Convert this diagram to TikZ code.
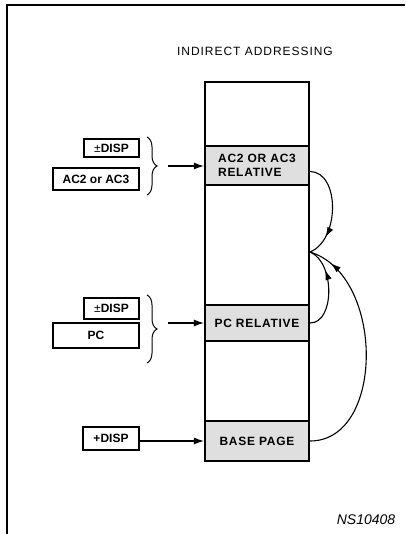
\documentclass[tikz,border=0pt]{standalone}
\usepackage{fontspec}
\setmainfont{Liberation Sans}
\usetikzlibrary{arrows.meta,decorations.pathreplacing,decorations.markings}
\begin{document}
\begin{tikzpicture}[x=1pt,y=-1pt,
  seg/.style={draw,line width=2.2pt,minimum width=104pt,inner sep=0pt,align=left,
    font=\bfseries\addfontfeature{LetterSpace=6}\fontsize{12}{14}\selectfont},
  shaded/.style={fill=gray!25},
  lbox/.style={draw,line width=2pt,inner sep=0pt,
    font=\bfseries\fontsize{12}{13}\selectfont},
  arr/.style={-{Latex[length=10pt,width=7pt]},line width=1.1pt},
  brc/.style={decorate,decoration={brace,amplitude=10pt},line width=1pt},
  carr/.style={line width=1.1pt,postaction=decorate,
    decoration={markings,mark=at position #1 with {\arrow{Latex[length=10pt,width=6.5pt]}}}},
  lbl/.style={font=\fontsize{12}{14}\selectfont\addfontfeature{LetterSpace=8}}
]
\useasboundingbox (0,0) rectangle (405,534);
% frame
\draw[line width=1.6pt] (7,534) -- (7,5) -- (405,5);
% title
\node[lbl] (title) at (255,51) {INDIRECT ADDRESSING};
% memory column
\node[seg,minimum height=64pt] (top) at (257,114) {};
\node[seg,shaded,minimum height=39pt] (ac2) at (257,165.5) {AC2 OR AC3\\RELATIVE};
\node[seg,minimum height=120pt] (mid1) at (257,245) {};
\node[seg,shaded,minimum height=36pt] (pc) at (257,323) {PC RELATIVE};
\node[seg,minimum height=80pt] (mid2) at (257,381) {};
\node[seg,shaded,minimum height=40pt] (base) at (257,441) {BASE PAGE};
% left boxes
\node[lbox,minimum width=55pt,minimum height=18pt] (d1) at (111.5,148) {{\mdseries ±}DISP};
\node[lbox,minimum width=86pt,minimum height=22pt] (acr) at (96,179) {AC2 or AC3};
\node[lbox,minimum width=55pt,minimum height=21pt] (d2) at (111.5,308.5) {{\mdseries ±}DISP};
\node[lbox,minimum width=86pt,minimum height=25pt] (pcr) at (96,335.5) {PC};
\node[lbox,minimum width=56pt,minimum height=23pt] (d3) at (111,438.5) {+DISP};
% braces
\draw[brc] (147,137) -- (147,195);
\draw[brc] (147,295) -- (147,363);
\coordinate (b1) at (168,166);
\coordinate (b2) at (168,323);
\draw[arr] (b1) -- (b1 -| ac2.west);
\draw[arr] (b2) -- (b2 -| pc.west);
\draw[arr] (d3.east |- base.west) -- (base.west);
% converging curves
\coordinate (hub) at (310,252);
\draw[carr=0.78] ([yshift=-6pt]ac2.east) .. controls (340,172) and (340,240) .. (hub);
\draw[carr=0.72] (pc.east) .. controls (335,323) and (335,262) .. (hub);
\draw[carr=0.9] (base.east) .. controls (385,441) and (385,275) .. (hub);
% figure id
\node[font=\itshape\fontsize{14}{16}\selectfont] (id) at (366,520) {NS10408};
\end{tikzpicture}
\end{document}
